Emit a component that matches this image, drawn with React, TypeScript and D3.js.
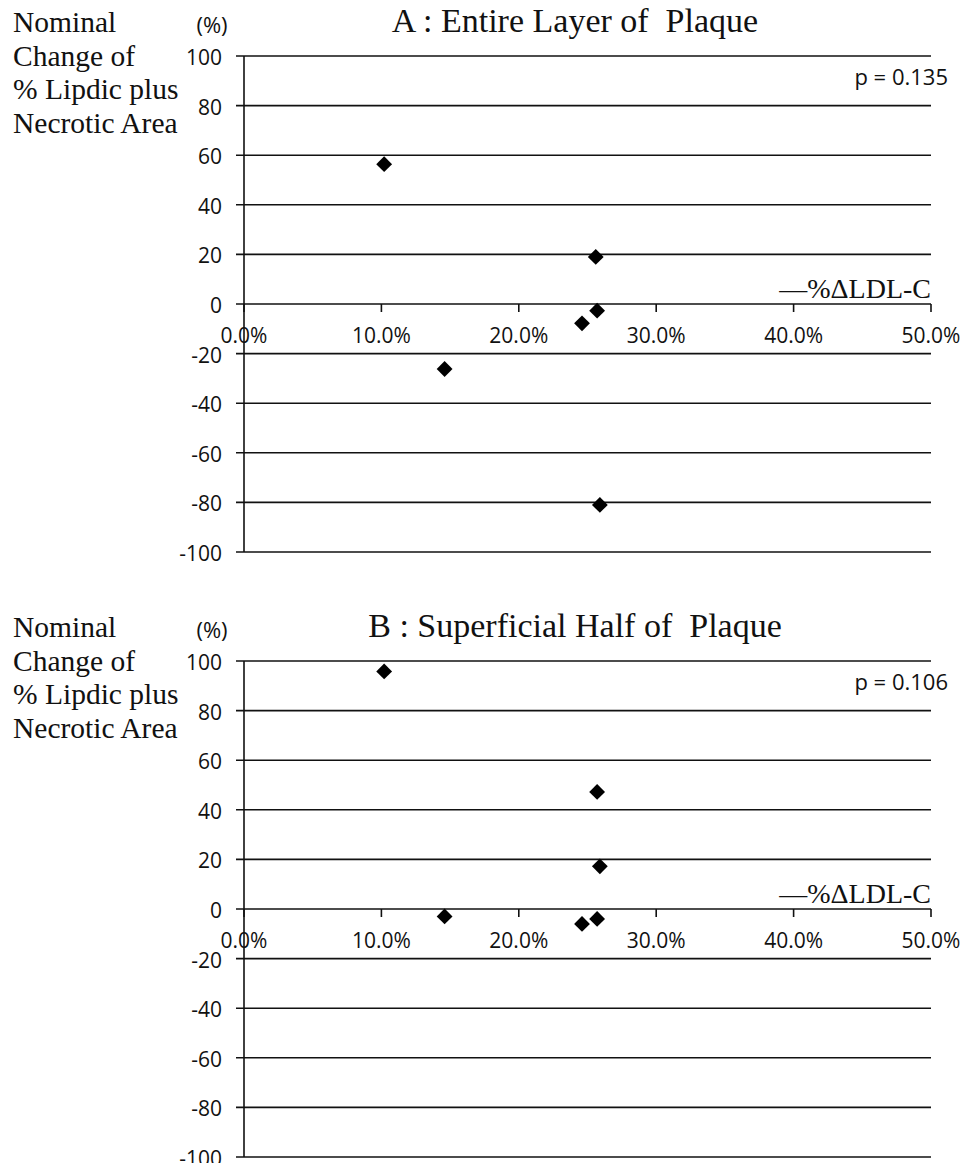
import React, { useEffect, useRef } from "react";
import * as d3 from "d3";

// x: -%ΔLDL-C (%), y: nominal change of % lipid plus necrotic area (%)
const xTicks = [0, 10, 20, 30, 40, 50];
const yTicks = [-100, -80, -60, -40, -20, 0, 20, 40, 60, 80, 100];
const yLabelLines = ["Nominal", "Change of", "% Lipdic plus", "Necrotic Area"];

const ldlA = [10.2, 25.6, 25.7, 24.6, 14.6, 25.9];
const changeA = [56.4, 19, -2.7, -7.8, -26.2, -81];

const ldlB = [10.2, 25.7, 25.9, 14.6, 24.6, 25.7];
const changeB = [95.8, 47.2, 17.2, -3, -6, -4];

const panels = [
    { title: "A : Entire Layer of  Plaque", p: "p = 0.135", xs: ldlA, ys: changeA, top: 56, bottom: 552 },
    { title: "B : Superficial Half of  Plaque", p: "p = 0.106", xs: ldlB, ys: changeB, top: 661, bottom: 1157 },
];

const App = () => {
    const svgRef = useRef<SVGSVGElement>(null);

    useEffect(() => {
        const width = 965;
        const height = 1163;
        const left = 244;
        const right = 931;
        const sans = "'Open Sans', Lato, sans-serif";
        const serif = "'Liberation Serif', 'DejaVu Serif', serif";
        const ink = "#111";

        const svg = d3.select(svgRef.current);
        svg.selectAll("*").remove();
        svg.attr("width", width).attr("height", height);

        const xScale = d3.scaleLinear().domain([0, 50]).range([left, right]);

        panels.forEach((pn) => {
            const yScale = d3.scaleLinear().domain([-100, 100]).range([pn.bottom, pn.top]);
            const g = svg.append("g");
            const y0 = yScale(0);

            // title
            g.append("text")
                .attr("x", 575)
                .attr("y", pn.top - 24)
                .attr("text-anchor", "middle")
                .attr("font-family", serif)
                .attr("font-size", 34)
                .attr("fill", ink)
                .style("white-space", "pre")
                .text(pn.title);

            // left label
            yLabelLines.forEach((t, i) => {
                g.append("text")
                    .attr("x", 13)
                    .attr("y", pn.top - 24 + i * 33.7)
                    .attr("font-family", serif)
                    .attr("font-size", 29.5)
                    .attr("fill", ink)
                    .text(t);
            });

            g.append("text")
                .attr("x", 212)
                .attr("y", pn.top - 23)
                .attr("text-anchor", "middle")
                .attr("font-family", sans)
                .attr("font-size", 22)
                .attr("fill", ink)
                .text("(%)");

            // grid lines + y ticks
            g.selectAll("line.grid")
                .data(yTicks)
                .enter()
                .append("line")
                .attr("x1", left - 8)
                .attr("x2", right)
                .attr("y1", (d) => yScale(d))
                .attr("y2", (d) => yScale(d))
                .attr("stroke", ink)
                .attr("stroke-width", 1.6);

            g.selectAll("text.ytick")
                .data(yTicks)
                .enter()
                .append("text")
                .attr("x", 222)
                .attr("y", (d) => yScale(d) + 9)
                .attr("text-anchor", "end")
                .attr("font-family", sans)
                .attr("font-size", 21)
                .attr("fill", ink)
                .text((d) => d);

            // y axis line
            g.append("line")
                .attr("x1", left)
                .attr("x2", left)
                .attr("y1", pn.top)
                .attr("y2", pn.bottom)
                .attr("stroke", ink)
                .attr("stroke-width", 1.6);

            // x ticks on the zero line
            g.selectAll("line.xtick")
                .data(xTicks)
                .enter()
                .append("line")
                .attr("x1", (d) => xScale(d))
                .attr("x2", (d) => xScale(d))
                .attr("y1", y0)
                .attr("y2", y0 + 8)
                .attr("stroke", ink)
                .attr("stroke-width", 1.6);

            g.selectAll("text.xtick")
                .data(xTicks)
                .enter()
                .append("text")
                .attr("x", (d) => xScale(d))
                .attr("y", y0 + 39)
                .attr("text-anchor", "middle")
                .attr("font-family", sans)
                .attr("font-size", 21)
                .attr("fill", ink)
                .text((d) => d3.format(".1f")(d) + "%");

            g.append("text")
                .attr("x", right)
                .attr("y", y0 - 6)
                .attr("text-anchor", "end")
                .attr("font-family", serif)
                .attr("font-size", 28)
                .attr("fill", ink)
                .text("\u2014%\u0394LDL-C");

            g.append("text")
                .attr("x", 948)
                .attr("y", pn.top + 29)
                .attr("text-anchor", "end")
                .attr("font-family", sans)
                .attr("font-size", 22)
                .attr("fill", ink)
                .text(pn.p);

            // points
            const diamond = d3.symbol().type(d3.symbolSquare).size(125);
            g.selectAll("path.pt")
                .data(pn.xs.map((x, i) => ({ x, y: pn.ys[i] })))
                .enter()
                .append("path")
                .attr("d", diamond)
                .attr("transform", (d) => `translate(${xScale(d.x)}, ${yScale(d.y)}) rotate(45)`)
                .attr("fill", "#000");
        });
    }, []);

    return <svg ref={svgRef} style={{ position: "absolute", left: 0, top: 0, background: "#fff" }}></svg>;
};

export default App;
